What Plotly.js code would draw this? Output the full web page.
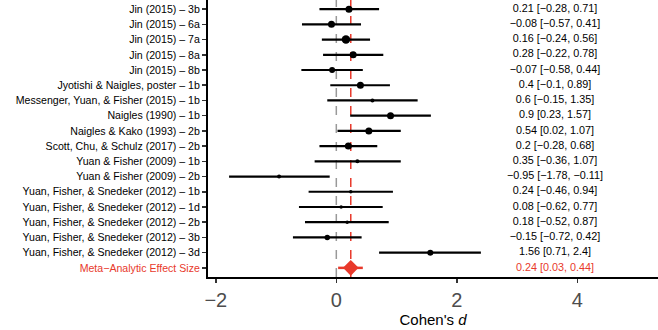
<!DOCTYPE html>
<html><head><meta charset="utf-8">
<script src="https://cdn.plot.ly/plotly-3.0.1.min.js"></script>
<style>html,body{margin:0;padding:0;background:#fff}#chart{width:658px;height:330px}</style>
</head><body><div id="chart"></div>
<script>
const studies = ["Jin (2015) – 3b","Jin (2015) – 6a","Jin (2015) – 7a","Jin (2015) – 8a","Jin (2015) – 8b",
 "Jyotishi & Naigles, poster – 1b","Messenger, Yuan, & Fisher (2015) – 1b","Naigles (1990) – 1b",
 "Naigles & Kako (1993) – 2b","Scott, Chu, & Schulz (2017) – 2b","Yuan & Fisher (2009) – 1b",
 "Yuan & Fisher (2009) – 2b","Yuan, Fisher, & Snedeker (2012) – 1b","Yuan, Fisher, & Snedeker (2012) – 1d",
 "Yuan, Fisher, & Snedeker (2012) – 2b","Yuan, Fisher, & Snedeker (2012) – 3b","Yuan, Fisher, & Snedeker (2012) – 3d"];
const d    = [0.21,-0.08,0.16,0.28,-0.07,0.4,0.6,0.9,0.54,0.2,0.35,-0.95,0.24,0.08,0.18,-0.15,1.56];
const lo   = [-0.28,-0.57,-0.24,-0.22,-0.58,-0.1,-0.15,0.23,0.02,-0.28,-0.36,-1.78,-0.46,-0.62,-0.52,-0.72,0.71];
const hi   = [0.71,0.41,0.56,0.78,0.44,0.89,1.35,1.57,1.07,0.68,1.07,-0.11,0.94,0.77,0.87,0.42,2.4];
const dispD  = ["0.21","−0.08","0.16","0.28","−0.07","0.4","0.6","0.9","0.54","0.2","0.35","−0.95","0.24","0.08","0.18","−0.15","1.56"];
const dispLo = ["−0.28","−0.57","−0.24","−0.22","−0.58","−0.1","−0.15","0.23","0.02","−0.28","−0.36","−1.78","−0.46","−0.62","−0.52","−0.72","0.71"];
const dispHi = ["0.71","0.41","0.56","0.78","0.44","0.89","1.35","1.57","1.07","0.68","1.07","−0.11","0.94","0.77","0.87","0.42","2.4"];
const weight = [7,7,8.5,7,6,7,4,7,7,7,4,4,3.5,3.5,3.5,5.5,6];
const metaLabel = "Meta−Analytic Effect Size";
const metaD = 0.24, metaLo = 0.03, metaHi = 0.44;
const metaDisp = "0.24 [0.03, 0.44]";
const xTicks = [-2,0,2,4];
const xTickText = ["−2","0","2","4"];

const n = studies.length;
const yPos = studies.map((s,i)=> n + 1 - i); // top = 18
const cats = studies.concat([metaLabel]);
const catPos = yPos.concat([1]);
const textX = 3.63;

const traces = [
 {type:'scatter', mode:'markers', x:d, y:yPos,
  marker:{color:'#000000', size:weight, opacity:1, line:{width:0}},
  error_x:{type:'data', symmetric:false, array:hi.map((h,i)=>h-d[i]), arrayminus:d.map((v,i)=>v-lo[i]), color:'#000000', thickness:2.2, width:0},
  hoverinfo:'skip'},
 {type:'scatter', mode:'markers', x:[metaD], y:[1],
  marker:{color:'#e8392b', size:12, symbol:'diamond', opacity:1, line:{width:0}},
  error_x:{type:'data', symmetric:false, array:[metaHi-metaD], arrayminus:[metaD-metaLo], color:'#e8392b', thickness:2.5, width:0},
  hoverinfo:'skip'},
 {type:'scatter', mode:'text', x:yPos.map(()=>textX), y:yPos,
  text:dispD.map((v,i)=>v+" ["+dispLo[i]+", "+dispHi[i]+"]"),
  textfont:{family:'Liberation Sans, Arial', size:10.8, color:'black'}, hoverinfo:'skip', cliponaxis:false},
 {type:'scatter', mode:'text', x:[textX], y:[1], text:[metaDisp],
  textfont:{family:'Liberation Sans, Arial', size:10.8, color:'#e8392b'}, hoverinfo:'skip', cliponaxis:false}
];

const layout = {
 width:658, height:330, margin:{l:208, r:0, t:0, b:53},
 paper_bgcolor:'white', plot_bgcolor:'white', showlegend:false,
 font:{family:'Liberation Sans, Arial', color:'black'},
 xaxis:{range:[-2.13,5.34], tickvals:xTicks, ticktext:xTickText, showgrid:false, zeroline:false,
   showline:true, linecolor:'black', linewidth:2, ticks:'outside', ticklen:4, tickwidth:1.5, tickcolor:'#333',
   tickfont:{size:20, color:'#4d4d4d'},
   title:{text:"Cohen's <i>d</i>", font:{size:15, color:'black'}, standoff:2}},
 yaxis:{range:[0.4,18.6], tickvals:catPos, ticktext:cats.map((c,i)=> i===n ? '<span style="color:#e8392b">'+c+'</span>' : c),
   showgrid:false, zeroline:false, showline:true, linecolor:'black', linewidth:2, ticks:'outside', ticklen:4,
   tickwidth:1.5, tickcolor:'#333', tickfont:{size:10.6, color:'black'}},
 shapes:[
  {type:'line', xref:'x', yref:'paper', x0:0, x1:0, y0:0, y1:1, line:{color:'#999999', width:1.5, dash:'dash'}, layer:'below'},
  {type:'line', xref:'x', yref:'paper', x0:metaD, x1:metaD, y0:0, y1:1, line:{color:'#e8392b', width:1.5, dash:'dash'}, layer:'below'}
 ]
};
Plotly.newPlot('chart', traces, layout, {staticPlot:true, displayModeBar:false});
</script></body></html>
